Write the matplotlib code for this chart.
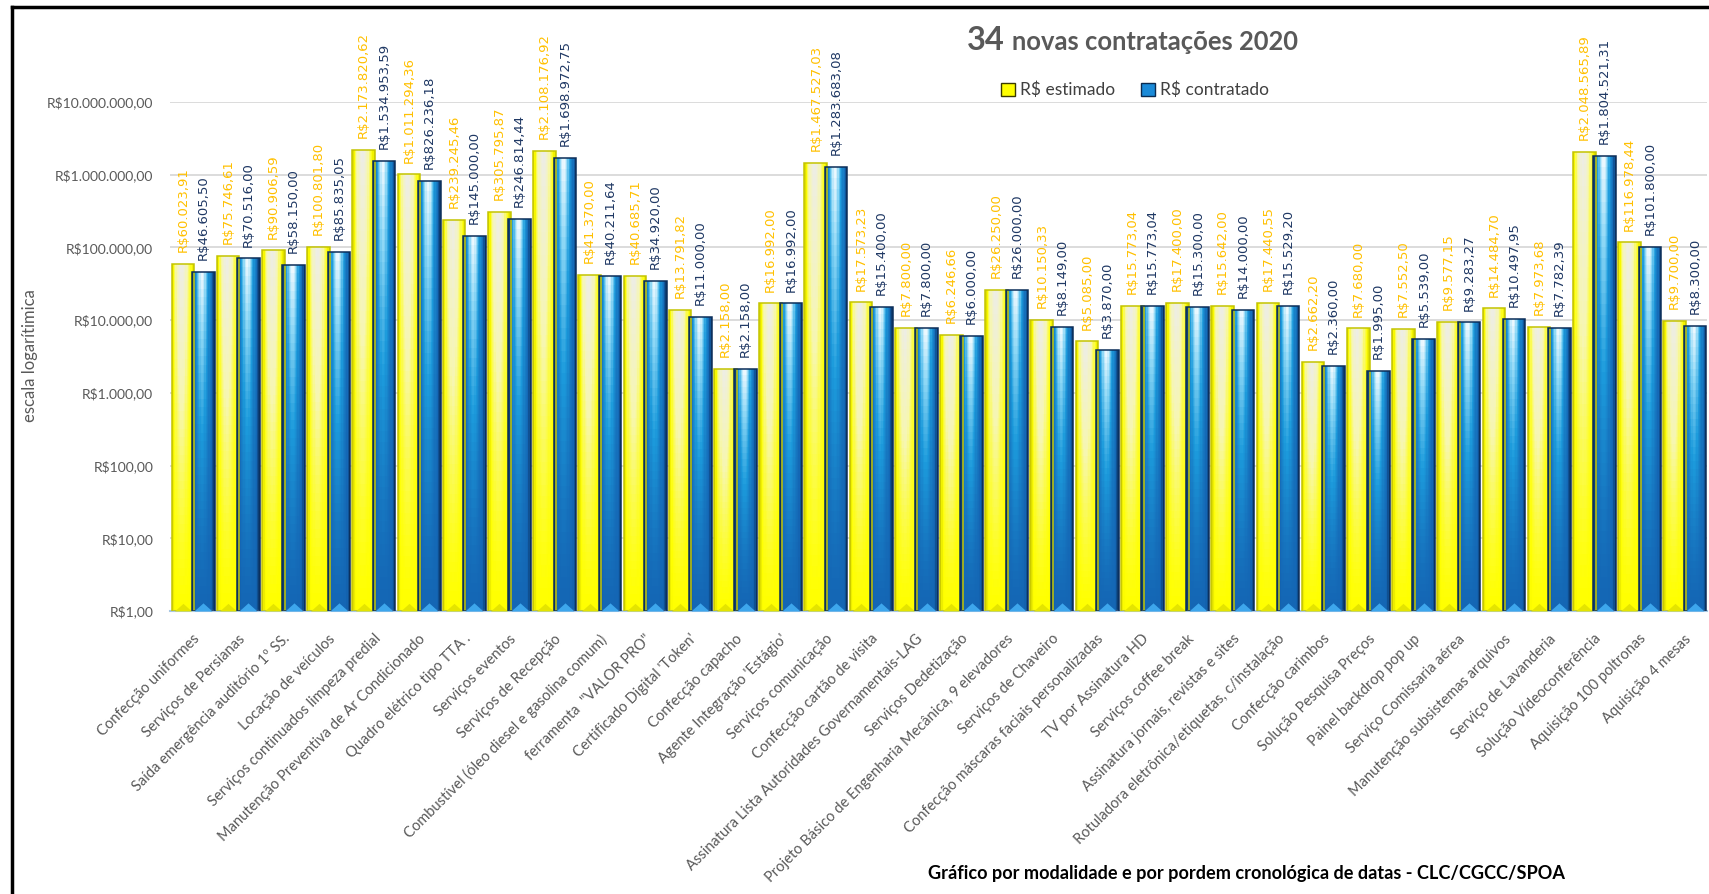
#!/usr/bin/env python3
import matplotlib
matplotlib.use('agg')
import matplotlib.pyplot as plt
import matplotlib.ticker as mticker
from matplotlib.colors import LinearSegmentedColormap
from matplotlib.patches import Patch
from matplotlib.lines import Line2D
import numpy as np

categories = [
    'Confecção uniformes', 'Serviços de Persianas', 'Saída emergência auditório 1º SS.',
    'Locação de veículos', 'Serviços continuados limpeza predial',
    'Manutenção Preventiva de Ar Condicionado', 'Quadro elétrico tipo TTA .',
    'Serviços eventos', 'Serviços de Recepção', 'Combustível (óleo diesel e gasolina comum)',
    'ferramenta  "VALOR PRO"', "Certificado Digital 'Token'", 'Confecção capacho',
    "Agente Integração 'Estágio'", 'Serviços comunicação', 'Confecção cartão de visita',
    'Assinatura Lista Autoridades Governamentais-LAG', 'Serviços Dedetização',
    'Projeto Básico de Engenharia Mecânica, 9 elevadores', 'Serviços de Chaveiro',
    'Confecção máscaras faciais personalizadas', 'TV por Assinatura HD',
    'Serviços coffee break', 'Assinatura jornais, revistas e sites',
    'Rotuladora eletrônica/etiquetas, c/instalação', 'Confecção carimbos',
    'Solução Pesquisa Preços', 'Painel backdrop pop up', 'Serviço Comissaria aérea',
    'Manutenção subsistemas arquivos', 'Serviço de Lavanderia', 'Solução Vídeoconferência',
    'Aquisição 100 poltronas', 'Aquisição 4 mesas',
]

estimado = [
    60023.91, 75746.61, 90906.59, 100801.80, 2173820.62, 1011294.36, 239245.46,
    305795.87, 2108176.92, 41370.00, 40685.71, 13791.82, 2158.00, 16992.00,
    1467527.03, 17573.23, 7800.00, 6246.66, 26250.00, 10150.33, 5085.00,
    15773.04, 17400.00, 15642.00, 17440.55, 2662.20, 7680.00, 7552.50,
    9577.15, 14484.70, 7973.68, 2048565.89, 116978.44, 9700.00,
]

contratado = [
    46605.50, 70516.00, 58150.00, 85835.05, 1534953.59, 826236.18, 145000.00,
    246814.44, 1698972.75, 40211.64, 34920.00, 11000.00, 2158.00, 16992.00,
    1283683.08, 15400.00, 7800.00, 6000.00, 26000.00, 8149.00, 3870.00,
    15773.04, 15300.00, 14000.00, 15529.20, 2360.00, 1995.00, 5539.00,
    9283.27, 10497.95, 7782.39, 1804521.31, 101800.00, 8300.00,
]

yTicks = [1, 10, 100, 1000, 10000, 100000, 1000000, 10000000]

GRAY = '#595959'
FONT = ['Lato', 'DejaVu Sans']


def brl(v: float) -> str:
    s = f'{v:,.2f}'
    return 'R$' + s.replace(',', '#').replace('.', ',').replace('#', '.')


blueMap = LinearSegmentedColormap.from_list(
    'bevelBlue', [(0.0, '#0A3566'), (0.25, '#1466B4'), (0.55, '#1C9BDC'),
                  (0.8, '#8AD6F5'), (1.0, '#F4FBFF')])
yellowMap = LinearSegmentedColormap.from_list(
    'bevelYellow', [(0.0, '#D8D800'), (0.25, '#FFFF00'), (0.6, '#F6F6B0'),
                    (1.0, '#EDEDE6')])


def drawBevelBar(ax, x0: float, x1: float, top: float, cmap, edge: str) -> None:
    nx, ny = 18, 40
    xs = np.linspace(x0, x1, nx + 1)
    ys = np.geomspace(1, top, ny + 1)
    u = (np.arange(nx) + 0.5) / nx
    f = (np.arange(ny) + 0.5) / ny
    edgeF = np.clip(np.minimum(u, 1 - u) / 0.15, 0, 1)
    hl = np.exp(-((u - 0.45) / 0.28) ** 2)
    C = 0.25 * edgeF[None, :] + 0.75 * edgeF[None, :] * hl[None, :] * (f[:, None] ** 1.4)
    ax.pcolormesh(xs, ys, C, cmap=cmap, vmin=0, vmax=1, shading='flat',
                  antialiased=False, edgecolors='none', zorder=2)
    ax.bar(x0, top, width=x1 - x0, align='edge', bottom=1, fill=False,
           edgecolor=edge, linewidth=1.1, zorder=3)


def plotChart() -> None:
    fig = plt.figure(figsize=(17.09, 8.94), dpi=100)
    ax = fig.add_axes([170 / 1709, 1 - 611 / 894, (1707 - 170) / 1709, (611 - 102) / 894])
    ax.set_yscale('log')
    ax.set_ylim(1, 1e7)
    ax.set_xlim(-0.5, len(categories) - 0.5)
    ax.set_axisbelow(True)

    xs = np.arange(len(categories))
    w = 0.5
    for i in xs:
        drawBevelBar(ax, i - 0.465, i - 0.465 + w, estimado[i], yellowMap, '#C4C400')
        drawBevelBar(ax, i - 0.015, i - 0.015 + w, contratado[i], blueMap, '#0B2E59')

    # bevel triangles at the base
    tri = [(-1, 0), (1, 0), (0, 0.9), (-1, 0)]
    ax.scatter(xs - 0.215, np.ones(len(xs)), marker=tri, s=150, color='#E4E400',
               linewidths=0, zorder=4, clip_on=False)
    ax.scatter(xs + 0.235, np.ones(len(xs)), marker=tri, s=170, color='#3DA6EC',
               linewidths=0, zorder=4, clip_on=False)

    for i in xs:
        ax.annotate(brl(estimado[i]), xy=(i - 0.215, estimado[i]), xytext=(0, 8.5),
                    textcoords='offset points', rotation=90, ha='center', va='bottom',
                    fontsize=9.5, color='#FFC000', family='DejaVu Sans', annotation_clip=False)
        ax.annotate(brl(contratado[i]), xy=(i + 0.235, contratado[i]), xytext=(0, 8.5),
                    textcoords='offset points', rotation=90, ha='center', va='bottom',
                    fontsize=9.5, color='#1F3864', family='DejaVu Sans', annotation_clip=False)

    ax.yaxis.set_major_locator(mticker.FixedLocator(yTicks))
    ax.yaxis.set_minor_locator(mticker.NullLocator())
    ax.set_yticklabels([brl(v) for v in yTicks], family=FONT, fontsize=10, color=GRAY)
    ax.tick_params(axis='y', length=0, pad=12)
    ax.grid(axis='y', color='#D9D9D9', linewidth=1.3)

    ax.set_xticks(xs)
    ax.set_xticklabels(categories, rotation=45, ha='right', rotation_mode='anchor',
                       family=FONT, fontsize=10.5, color=GRAY)
    ax.tick_params(axis='x', length=0, pad=15)

    for side in ['left', 'top', 'right']:
        ax.spines[side].set_visible(False)
    ax.spines['bottom'].set_color('#A9C8E4')
    ax.spines['bottom'].set_linewidth(1.5)

    fig.text(967 / 1709, 1 - 50 / 894, '34', family=FONT, fontsize=23.5, weight='bold',
             color=GRAY, va='baseline', ha='left')
    fig.text(1012 / 1709, 1 - 50 / 894, 'novas contratações 2020', family=FONT, fontsize=18.4,
             weight='bold', color=GRAY, va='baseline', ha='left')

    handles = [Patch(facecolor='#FFFF00', edgecolor='#3A3A00', label='R$ estimado'),
               Patch(facecolor='#1A8AD8', edgecolor='#0A2A50', label='R$ contratado')]
    fig.legend(handles=handles, loc='center', bbox_to_anchor=(1135 / 1709, 1 - 90 / 894),
               ncol=2, frameon=False, handlelength=0.8, handleheight=0.8,
               handletextpad=0.3, columnspacing=1.5, prop={'family': FONT, 'size': 12.5},
               labelcolor='#404040')

    fig.text(30 / 1709, 1 - 356 / 894, 'escala logarítimica', family=FONT, fontsize=12,
             color=GRAY, rotation=90, ha='center', va='center')
    fig.text(1565 / 1709, 1 - 873 / 894,
             'Gráfico por modalidade e por pordem cronológica de datas - CLC/CGCC/SPOA',
             family=FONT, fontsize=13.1, weight='bold', color='black', ha='right', va='center')

    # outer frame (left and top edges)
    fig.add_artist(Line2D([12 / 1709, 12 / 1709], [0, 1 - 7 / 894], color='black', linewidth=2.5))
    fig.add_artist(Line2D([12 / 1709, 1], [1 - 7 / 894, 1 - 7 / 894], color='black', linewidth=2.5))

    fig.savefig('out.png', dpi=100)


if __name__ == "__main__":
    plotChart()
